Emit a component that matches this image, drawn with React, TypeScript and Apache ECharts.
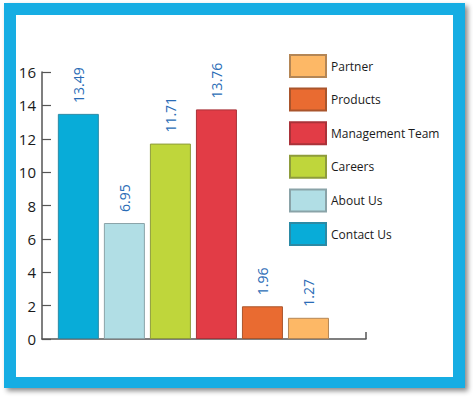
import React, { useEffect, useRef } from "react";
import * as echarts from "echarts";

const categories = ["Contact Us", "About Us", "Careers", "Management Team", "Products", "Partner"];
const values = [13.49, 6.95, 11.71, 13.76, 1.96, 1.27];
const barColors = ["#08acd8", "#b1dee5", "#bfd63b", "#e23c46", "#e96b31", "#fdb866"];
const borderColors = ["#2b8aa5", "#8aa3a8", "#8e9c3c", "#a93239", "#a9552c", "#b48655"];
const legendOrder = ["Partner", "Products", "Management Team", "Careers", "About Us", "Contact Us"];
const yTicks = { min: 0, max: 16, interval: 2 };

export default function App() {
  const ref = useRef<HTMLDivElement>(null);
  useEffect(() => {
    if (!ref.current) return;
    const chart = echarts.init(ref.current, null, { renderer: "svg" });
    const font = "'Open Sans', 'DejaVu Sans', sans-serif";
    chart.setOption({
      animation: false,
      backgroundColor: "#ffffff",
      graphic: [
        {
          type: "rect",
          z: 0,
          shape: { x: 4, y: 3, width: 461, height: 385 },
          style: { fill: "#13ade3", shadowBlur: 5, shadowOffsetX: 3, shadowOffsetY: 3, shadowColor: "rgba(0,0,0,0.45)" },
        },
        {
          type: "rect",
          z: 0,
          shape: { x: 16, y: 15, width: 437, height: 362 },
          style: { fill: "#ffffff" },
        },
        {
          type: "line",
          z: 3,
          shape: { x1: 366, y1: 339, x2: 366, y2: 332 },
          style: { stroke: "#555", lineWidth: 1.5 },
        },
      ],
      grid: { left: 42, right: 107, top: 72, bottom: 58, containLabel: false },
      legend: {
        orient: "vertical",
        left: 289,
        top: 54,
        padding: 0,
        itemWidth: 36,
        itemHeight: 22,
        itemGap: 9.6,
        icon: "rect",
        data: legendOrder,
        selectedMode: false,
        textStyle: { fontFamily: font, fontSize: 12, color: "#1a1a1a" },
      },
      xAxis: {
        type: "value",
        min: -0.79,
        max: 6.25,
        splitLine: { show: false },
        axisLabel: { show: false },
        axisTick: { show: false },
        axisLine: { show: true, onZero: false, lineStyle: { color: "#555", width: 1.5 } },
      },
      yAxis: {
        type: "value",
        min: yTicks.min,
        max: yTicks.max,
        interval: yTicks.interval,
        splitLine: { show: false },
        axisLine: { show: true, onZero: false, lineStyle: { color: "#555", width: 1.5 } },
        axisTick: { show: true, inside: true, length: 9, lineStyle: { color: "#555", width: 1.2 } },
        axisLabel: { margin: 6, fontFamily: font, fontSize: 15, color: "#1a1a1a" },
      },
      series: categories.map((name, i) => ({
        type: "bar",
        name,
        stack: "all",
        barWidth: 41,
        data: [[i, values[i]]],
        itemStyle: { color: barColors[i], borderColor: borderColors[i], borderWidth: 1 },
        label: {
          show: true,
          position: "top",
          rotate: 90,
          align: "left",
          verticalAlign: "middle",
          distance: 11,
          fontFamily: font,
          fontSize: 14,
          color: "#2a6cb6",
          formatter: () => values[i].toFixed(2),
        },
      })),
    });
    return () => chart.dispose();
  }, []);
  return (
    <div
      ref={ref}
      style={{ position: "absolute", left: 0, top: 0, width: 473, height: 397 }}
    />
  );
}
